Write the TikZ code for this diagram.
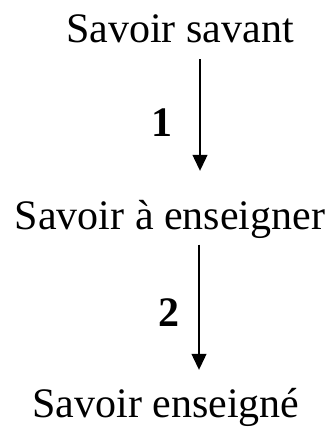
\documentclass[tikz,border=0pt]{standalone}
\usepackage{fontspec}
\setmainfont{Liberation Serif}
\usetikzlibrary{arrows.meta}

\begin{document}
\begin{tikzpicture}[x=1pt, y=-1pt, font=\fontsize{42}{50}\selectfont,
    savoir/.style={inner sep=0pt, anchor=base, text height=30pt, text depth=10pt},
    etape/.style={inner sep=0pt, anchor=base east, font=\fontsize{42}{50}\selectfont\bfseries},
    fleche/.style={line width=1.2pt, -{Triangle[width=15pt, length=16pt]}}]
        \useasboundingbox (0,0) rectangle (330,427);
        \node[savoir] (savant) at (180,43) {Savoir savant};
        \node[savoir] (aenseigner) at (170,229) {Savoir à enseigner};
        \node[savoir] (enseigne) at (166,417) {Savoir enseigné};
        \node[etape] (un) at (173,137) {1};
        \node[etape] (deux) at (180,326) {2};
        \draw[fleche] ([xshift=20pt, yshift=-6pt]savant.south) -- ([xshift=30pt, yshift=28pt]aenseigner.north);
        \draw[fleche] ([xshift=29pt, yshift=-5.5pt]aenseigner.south) -- ([xshift=33pt, yshift=17pt]enseigne.north);
      \end{tikzpicture}
\end{document}
